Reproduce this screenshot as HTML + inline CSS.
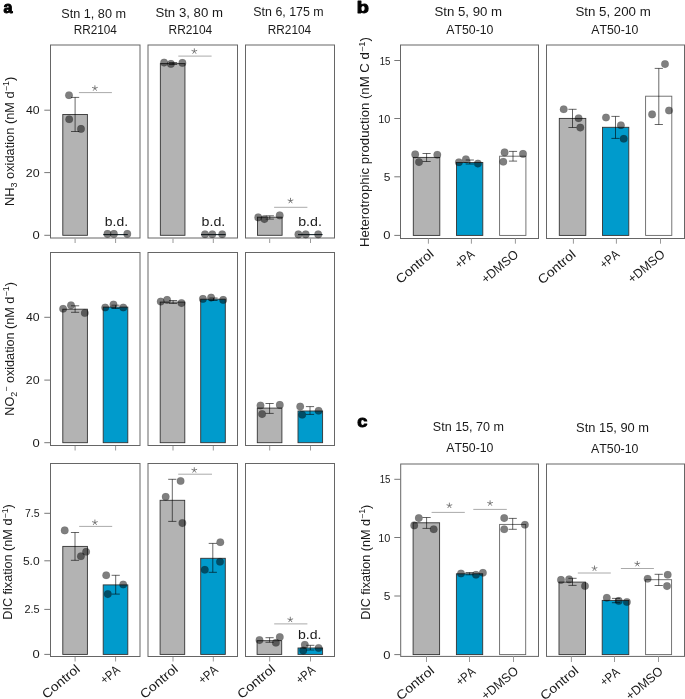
<!DOCTYPE html>
<html><head><meta charset="utf-8"><style>
html,body{margin:0;padding:0;background:#fff;}
svg{display:block;font-family:"Liberation Sans",sans-serif;font-kerning:none;}
text{font-kerning:none;white-space:pre;}
</style></head><body>
<div style="will-change:transform;width:685px;height:699px">
<svg xml:space="preserve" width="685" height="699" viewBox="0 0 685 699">
<rect width="685" height="699" fill="#fff"/>
<text transform="translate(3.53,12.60) scale(0.9895,1)" font-size="16.3" font-weight="bold" fill="#000" stroke="#000" stroke-width="1.0" stroke-linejoin="round">a</text>
<text transform="translate(61.22,18.20) scale(1.0320,1)" font-size="12.3" fill="#1a1a1a">Stn 1, 80 m</text>
<text transform="translate(73.63,33.60) scale(0.9575,1)" font-size="12.3" fill="#1a1a1a">RR2104</text>
<text transform="translate(155.40,17.20) scale(1.0743,1)" font-size="12.3" fill="#1a1a1a">Stn 3, 80 m</text>
<text transform="translate(168.52,33.60) scale(0.9690,1)" font-size="12.3" fill="#1a1a1a">RR2104</text>
<text transform="translate(253.34,16.00) scale(1.0092,1)" font-size="12.3" fill="#1a1a1a">Stn 6, 175 m</text>
<text transform="translate(267.83,33.60) scale(0.9598,1)" font-size="12.3" fill="#1a1a1a">RR2104</text>
<line x1="44.30" y1="235.30" x2="50.50" y2="235.30" stroke="#777" stroke-width="1"/>
<text transform="translate(32.48,239.31) scale(1.1500,1)" font-size="11.3" fill="#1a1a1a">0</text>
<line x1="44.30" y1="172.60" x2="50.50" y2="172.60" stroke="#777" stroke-width="1"/>
<text transform="translate(25.86,176.61) scale(1.1000,1)" font-size="11.3" fill="#1a1a1a">20</text>
<line x1="44.30" y1="110.20" x2="50.50" y2="110.20" stroke="#777" stroke-width="1"/>
<text transform="translate(26.02,114.20) scale(1.0870,1)" font-size="11.3" fill="#1a1a1a">40</text>
<line x1="44.30" y1="442.70" x2="50.50" y2="442.70" stroke="#777" stroke-width="1"/>
<text transform="translate(32.48,446.70) scale(1.1500,1)" font-size="11.3" fill="#1a1a1a">0</text>
<line x1="44.30" y1="380.10" x2="50.50" y2="380.10" stroke="#777" stroke-width="1"/>
<text transform="translate(25.86,384.11) scale(1.1000,1)" font-size="11.3" fill="#1a1a1a">20</text>
<line x1="44.30" y1="317.30" x2="50.50" y2="317.30" stroke="#777" stroke-width="1"/>
<text transform="translate(26.02,321.31) scale(1.0870,1)" font-size="11.3" fill="#1a1a1a">40</text>
<line x1="44.30" y1="654.40" x2="50.50" y2="654.40" stroke="#777" stroke-width="1"/>
<text transform="translate(32.48,658.40) scale(1.1500,1)" font-size="11.3" fill="#1a1a1a">0</text>
<line x1="44.30" y1="609.40" x2="50.50" y2="609.40" stroke="#777" stroke-width="1"/>
<text transform="translate(24.42,613.40) scale(0.9700,1)" font-size="11.3" fill="#1a1a1a">2.5</text>
<line x1="44.30" y1="560.80" x2="50.50" y2="560.80" stroke="#777" stroke-width="1"/>
<text transform="translate(22.91,564.80) scale(1.0670,1)" font-size="11.3" fill="#1a1a1a">5.0</text>
<line x1="44.30" y1="513.30" x2="50.50" y2="513.30" stroke="#777" stroke-width="1"/>
<text transform="translate(24.96,517.30) scale(0.9350,1)" font-size="11.3" fill="#1a1a1a">7.5</text>
<g transform="translate(14.00,204.90) rotate(-90) translate(-1.05,0) scale(1.0417,1)" fill="#1a1a1a"><text x="0.00" y="0.00" font-size="12.30">NH</text><text x="17.77" y="3.44" font-size="8.61">3</text><text x="22.55" y="0.00" font-size="12.30"> oxidation (nM d</text><text x="110.07" y="-4.67" font-size="8.61">−1</text><text x="119.88" y="0.00" font-size="12.30">)</text></g>
<g transform="translate(14.00,414.70) rotate(-90) translate(-1.04,0) scale(1.0303,1)" fill="#1a1a1a"><text x="0.00" y="0.00" font-size="12.30">NO</text><text x="18.45" y="3.44" font-size="8.61">2</text><text x="23.24" y="-4.67" font-size="8.61">−</text><text x="28.27" y="0.00" font-size="12.30"> oxidation (nM d</text><text x="115.78" y="-4.67" font-size="8.61">−1</text><text x="125.59" y="0.00" font-size="12.30">)</text></g>
<g transform="translate(12.40,618.70) rotate(-90) translate(-1.04,0) scale(1.0283,1)" fill="#1a1a1a"><text x="0.00" y="0.00" font-size="12.30">DIC fixation (nM d</text><text x="98.43" y="-4.67" font-size="8.61">−1</text><text x="108.25" y="0.00" font-size="12.30">)</text></g>
<rect x="50.5" y="45.0" width="89.50" height="193.00" fill="none" stroke="#666" stroke-width="1"/>
<rect x="148.0" y="45.0" width="89.50" height="193.00" fill="none" stroke="#666" stroke-width="1"/>
<rect x="245.5" y="45.0" width="89.00" height="193.00" fill="none" stroke="#666" stroke-width="1"/>
<rect x="50.5" y="252.5" width="89.50" height="193.00" fill="none" stroke="#666" stroke-width="1"/>
<rect x="148.0" y="252.5" width="89.50" height="193.00" fill="none" stroke="#666" stroke-width="1"/>
<rect x="245.5" y="252.5" width="89.00" height="193.00" fill="none" stroke="#666" stroke-width="1"/>
<rect x="50.5" y="463.5" width="89.50" height="193.00" fill="none" stroke="#666" stroke-width="1"/>
<rect x="148.0" y="463.5" width="89.50" height="193.00" fill="none" stroke="#666" stroke-width="1"/>
<rect x="245.5" y="463.5" width="89.00" height="193.00" fill="none" stroke="#666" stroke-width="1"/>
<line x1="75.10" y1="238.50" x2="75.10" y2="243.00" stroke="#999" stroke-width="1"/>
<line x1="115.60" y1="238.50" x2="115.60" y2="243.00" stroke="#999" stroke-width="1"/>
<line x1="75.10" y1="446.00" x2="75.10" y2="450.50" stroke="#999" stroke-width="1"/>
<line x1="115.60" y1="446.00" x2="115.60" y2="450.50" stroke="#999" stroke-width="1"/>
<line x1="75.10" y1="657.00" x2="75.10" y2="661.50" stroke="#999" stroke-width="1"/>
<line x1="115.60" y1="657.00" x2="115.60" y2="661.50" stroke="#999" stroke-width="1"/>
<text transform="translate(46.40,699.28) rotate(-40) scale(1.09,1)" font-size="12.8" fill="#1a1a1a">Control</text>
<text transform="translate(104.87,684.80) rotate(-40) scale(0.85,1)" font-size="12.8" fill="#1a1a1a">+PA</text>
<line x1="173.00" y1="238.50" x2="173.00" y2="243.00" stroke="#999" stroke-width="1"/>
<line x1="213.30" y1="238.50" x2="213.30" y2="243.00" stroke="#999" stroke-width="1"/>
<line x1="173.00" y1="446.00" x2="173.00" y2="450.50" stroke="#999" stroke-width="1"/>
<line x1="213.30" y1="446.00" x2="213.30" y2="450.50" stroke="#999" stroke-width="1"/>
<line x1="173.00" y1="657.00" x2="173.00" y2="661.50" stroke="#999" stroke-width="1"/>
<line x1="213.30" y1="657.00" x2="213.30" y2="661.50" stroke="#999" stroke-width="1"/>
<text transform="translate(144.40,699.28) rotate(-40) scale(1.09,1)" font-size="12.8" fill="#1a1a1a">Control</text>
<text transform="translate(202.87,684.80) rotate(-40) scale(0.85,1)" font-size="12.8" fill="#1a1a1a">+PA</text>
<line x1="269.70" y1="238.50" x2="269.70" y2="243.00" stroke="#999" stroke-width="1"/>
<line x1="310.50" y1="238.50" x2="310.50" y2="243.00" stroke="#999" stroke-width="1"/>
<line x1="269.70" y1="446.00" x2="269.70" y2="450.50" stroke="#999" stroke-width="1"/>
<line x1="310.50" y1="446.00" x2="310.50" y2="450.50" stroke="#999" stroke-width="1"/>
<line x1="269.70" y1="657.00" x2="269.70" y2="661.50" stroke="#999" stroke-width="1"/>
<line x1="310.50" y1="657.00" x2="310.50" y2="661.50" stroke="#999" stroke-width="1"/>
<text transform="translate(241.70,699.28) rotate(-40) scale(1.09,1)" font-size="12.8" fill="#1a1a1a">Control</text>
<text transform="translate(300.17,684.80) rotate(-40) scale(0.85,1)" font-size="12.8" fill="#1a1a1a">+PA</text>
<rect x="62.80" y="114.50" width="24.60" height="120.80" fill="#b3b3b3" stroke="#333" stroke-width="0.9"/>
<path d="M71.00,97.40H79.20M75.10,97.40V131.50M71.00,131.50H79.20" stroke="#000" stroke-width="0.6" fill="none"/>
<circle cx="69.00" cy="95.20" r="3.8" fill="#000" fill-opacity="0.5" stroke="#000" stroke-opacity="0.15" stroke-width="0.5"/>
<circle cx="69.20" cy="119.30" r="3.8" fill="#000" fill-opacity="0.5" stroke="#000" stroke-opacity="0.15" stroke-width="0.5"/>
<circle cx="81.00" cy="128.90" r="3.8" fill="#000" fill-opacity="0.5" stroke="#000" stroke-opacity="0.15" stroke-width="0.5"/>
<line x1="103.20" y1="234.60" x2="127.80" y2="234.60" stroke="#1a2a30" stroke-width="1.1"/>
<circle cx="107.50" cy="233.90" r="3.8" fill="#000" fill-opacity="0.5" stroke="#000" stroke-opacity="0.15" stroke-width="0.5"/>
<circle cx="113.90" cy="233.90" r="3.8" fill="#000" fill-opacity="0.5" stroke="#000" stroke-opacity="0.15" stroke-width="0.5"/>
<circle cx="127.30" cy="233.90" r="3.8" fill="#000" fill-opacity="0.5" stroke="#000" stroke-opacity="0.15" stroke-width="0.5"/>
<text transform="translate(104.80,226.10) scale(1.1344,1)" font-size="12.3" fill="#1a1a1a">b.d.</text>
<line x1="78.90" y1="92.60" x2="111.90" y2="92.60" stroke="#aaa" stroke-width="1"/>
<path d="M94.90,88.30L94.90,85.75M94.90,88.30L97.33,87.51M94.90,88.30L96.40,90.36M94.90,88.30L93.40,90.36M94.90,88.30L92.47,87.51" stroke="#707070" stroke-width="0.9" stroke-linecap="round" fill="none"/>
<rect x="160.35" y="63.60" width="24.60" height="171.70" fill="#b3b3b3" stroke="#333" stroke-width="0.9"/>
<path d="M169.00,62.50H177.20M173.10,62.50V64.50M169.00,64.50H177.20" stroke="#000" stroke-width="0.6" fill="none"/>
<circle cx="164.10" cy="62.60" r="3.8" fill="#000" fill-opacity="0.5" stroke="#000" stroke-opacity="0.15" stroke-width="0.5"/>
<circle cx="170.90" cy="63.90" r="3.8" fill="#000" fill-opacity="0.5" stroke="#000" stroke-opacity="0.15" stroke-width="0.5"/>
<circle cx="182.40" cy="62.90" r="3.8" fill="#000" fill-opacity="0.5" stroke="#000" stroke-opacity="0.15" stroke-width="0.5"/>
<line x1="201.00" y1="234.60" x2="225.60" y2="234.60" stroke="#1a2a30" stroke-width="1.1"/>
<circle cx="205.00" cy="234.30" r="3.8" fill="#000" fill-opacity="0.5" stroke="#000" stroke-opacity="0.15" stroke-width="0.5"/>
<circle cx="212.30" cy="234.30" r="3.8" fill="#000" fill-opacity="0.5" stroke="#000" stroke-opacity="0.15" stroke-width="0.5"/>
<circle cx="222.20" cy="234.30" r="3.8" fill="#000" fill-opacity="0.5" stroke="#000" stroke-opacity="0.15" stroke-width="0.5"/>
<text transform="translate(201.58,226.10) scale(1.1559,1)" font-size="12.3" fill="#1a1a1a">b.d.</text>
<line x1="178.30" y1="56.10" x2="211.60" y2="56.10" stroke="#aaa" stroke-width="1"/>
<path d="M194.35,51.30L194.35,48.75M194.35,51.30L196.78,50.51M194.35,51.30L195.85,53.36M194.35,51.30L192.85,53.36M194.35,51.30L191.92,50.51" stroke="#707070" stroke-width="0.9" stroke-linecap="round" fill="none"/>
<rect x="257.50" y="217.20" width="24.60" height="18.10" fill="#b3b3b3" stroke="#333" stroke-width="0.9"/>
<path d="M265.70,215.80H273.90M269.80,215.80V219.10M265.70,219.10H273.90" stroke="#000" stroke-width="0.6" fill="none"/>
<circle cx="258.20" cy="217.40" r="3.8" fill="#000" fill-opacity="0.5" stroke="#000" stroke-opacity="0.15" stroke-width="0.5"/>
<circle cx="264.40" cy="219.10" r="3.8" fill="#000" fill-opacity="0.5" stroke="#000" stroke-opacity="0.15" stroke-width="0.5"/>
<circle cx="279.70" cy="215.40" r="3.8" fill="#000" fill-opacity="0.5" stroke="#000" stroke-opacity="0.15" stroke-width="0.5"/>
<line x1="298.00" y1="234.60" x2="322.60" y2="234.60" stroke="#1a2a30" stroke-width="1.1"/>
<circle cx="298.40" cy="234.40" r="3.8" fill="#000" fill-opacity="0.5" stroke="#000" stroke-opacity="0.15" stroke-width="0.5"/>
<circle cx="305.70" cy="234.40" r="3.8" fill="#000" fill-opacity="0.5" stroke="#000" stroke-opacity="0.15" stroke-width="0.5"/>
<circle cx="318.20" cy="234.40" r="3.8" fill="#000" fill-opacity="0.5" stroke="#000" stroke-opacity="0.15" stroke-width="0.5"/>
<text transform="translate(298.18,225.80) scale(1.1559,1)" font-size="12.3" fill="#1a1a1a">b.d.</text>
<line x1="274.10" y1="207.30" x2="307.40" y2="207.30" stroke="#aaa" stroke-width="1"/>
<path d="M290.50,200.80L290.50,198.25M290.50,200.80L292.93,200.01M290.50,200.80L292.00,202.86M290.50,200.80L289.00,202.86M290.50,200.80L288.07,200.01" stroke="#707070" stroke-width="0.9" stroke-linecap="round" fill="none"/>
<rect x="62.80" y="309.20" width="24.60" height="133.50" fill="#b3b3b3" stroke="#333" stroke-width="0.9"/>
<path d="M71.00,305.80H79.20M75.10,305.80V312.30M71.00,312.30H79.20" stroke="#000" stroke-width="0.6" fill="none"/>
<circle cx="63.10" cy="308.80" r="3.8" fill="#000" fill-opacity="0.5" stroke="#000" stroke-opacity="0.15" stroke-width="0.5"/>
<circle cx="71.00" cy="305.20" r="3.8" fill="#000" fill-opacity="0.5" stroke="#000" stroke-opacity="0.15" stroke-width="0.5"/>
<circle cx="84.80" cy="313.00" r="3.8" fill="#000" fill-opacity="0.5" stroke="#000" stroke-opacity="0.15" stroke-width="0.5"/>
<rect x="103.20" y="307.10" width="24.60" height="135.60" fill="#009bcc" stroke="#333" stroke-width="0.9"/>
<path d="M111.40,305.20H119.60M115.50,305.20V308.50M111.40,308.50H119.60" stroke="#000" stroke-width="0.6" fill="none"/>
<circle cx="105.20" cy="307.50" r="3.8" fill="#000" fill-opacity="0.5" stroke="#000" stroke-opacity="0.15" stroke-width="0.5"/>
<circle cx="113.50" cy="304.50" r="3.8" fill="#000" fill-opacity="0.5" stroke="#000" stroke-opacity="0.15" stroke-width="0.5"/>
<circle cx="123.30" cy="307.50" r="3.8" fill="#000" fill-opacity="0.5" stroke="#000" stroke-opacity="0.15" stroke-width="0.5"/>
<rect x="160.20" y="302.10" width="24.60" height="140.60" fill="#b3b3b3" stroke="#333" stroke-width="0.9"/>
<path d="M169.00,300.50H177.20M173.10,300.50V303.50M169.00,303.50H177.20" stroke="#000" stroke-width="0.6" fill="none"/>
<circle cx="160.70" cy="301.60" r="3.8" fill="#000" fill-opacity="0.5" stroke="#000" stroke-opacity="0.15" stroke-width="0.5"/>
<circle cx="167.10" cy="299.90" r="3.8" fill="#000" fill-opacity="0.5" stroke="#000" stroke-opacity="0.15" stroke-width="0.5"/>
<circle cx="181.50" cy="303.10" r="3.8" fill="#000" fill-opacity="0.5" stroke="#000" stroke-opacity="0.15" stroke-width="0.5"/>
<rect x="200.70" y="299.20" width="24.60" height="143.50" fill="#009bcc" stroke="#333" stroke-width="0.9"/>
<path d="M209.40,298.00H217.60M213.50,298.00V300.50M209.40,300.50H217.60" stroke="#000" stroke-width="0.6" fill="none"/>
<circle cx="202.90" cy="298.90" r="3.8" fill="#000" fill-opacity="0.5" stroke="#000" stroke-opacity="0.15" stroke-width="0.5"/>
<circle cx="211.10" cy="297.60" r="3.8" fill="#000" fill-opacity="0.5" stroke="#000" stroke-opacity="0.15" stroke-width="0.5"/>
<circle cx="223.20" cy="299.90" r="3.8" fill="#000" fill-opacity="0.5" stroke="#000" stroke-opacity="0.15" stroke-width="0.5"/>
<rect x="257.30" y="408.10" width="24.60" height="34.60" fill="#b3b3b3" stroke="#333" stroke-width="0.9"/>
<path d="M265.50,403.50H273.70M269.60,403.50V413.40M265.50,413.40H273.70" stroke="#000" stroke-width="0.6" fill="none"/>
<circle cx="260.50" cy="405.50" r="3.8" fill="#000" fill-opacity="0.5" stroke="#000" stroke-opacity="0.15" stroke-width="0.5"/>
<circle cx="262.10" cy="414.10" r="3.8" fill="#000" fill-opacity="0.5" stroke="#000" stroke-opacity="0.15" stroke-width="0.5"/>
<circle cx="279.80" cy="404.90" r="3.8" fill="#000" fill-opacity="0.5" stroke="#000" stroke-opacity="0.15" stroke-width="0.5"/>
<rect x="298.00" y="411.00" width="24.60" height="31.70" fill="#009bcc" stroke="#333" stroke-width="0.9"/>
<path d="M305.90,406.60H314.10M310.00,406.60V414.40M305.90,414.40H314.10" stroke="#000" stroke-width="0.6" fill="none"/>
<circle cx="300.20" cy="406.60" r="3.8" fill="#000" fill-opacity="0.5" stroke="#000" stroke-opacity="0.15" stroke-width="0.5"/>
<circle cx="302.20" cy="414.70" r="3.8" fill="#000" fill-opacity="0.5" stroke="#000" stroke-opacity="0.15" stroke-width="0.5"/>
<circle cx="318.60" cy="410.80" r="3.8" fill="#000" fill-opacity="0.5" stroke="#000" stroke-opacity="0.15" stroke-width="0.5"/>
<rect x="62.80" y="546.40" width="24.60" height="108.00" fill="#b3b3b3" stroke="#333" stroke-width="0.9"/>
<path d="M70.90,532.50H79.10M75.00,532.50V560.30M70.90,560.30H79.10" stroke="#000" stroke-width="0.6" fill="none"/>
<circle cx="64.70" cy="530.40" r="3.8" fill="#000" fill-opacity="0.5" stroke="#000" stroke-opacity="0.15" stroke-width="0.5"/>
<circle cx="80.90" cy="556.30" r="3.8" fill="#000" fill-opacity="0.5" stroke="#000" stroke-opacity="0.15" stroke-width="0.5"/>
<circle cx="86.10" cy="551.80" r="3.8" fill="#000" fill-opacity="0.5" stroke="#000" stroke-opacity="0.15" stroke-width="0.5"/>
<rect x="103.20" y="584.90" width="24.60" height="69.50" fill="#009bcc" stroke="#333" stroke-width="0.9"/>
<path d="M111.60,575.30H119.80M115.70,575.30V594.10M111.60,594.10H119.80" stroke="#000" stroke-width="0.6" fill="none"/>
<circle cx="106.20" cy="575.30" r="3.8" fill="#000" fill-opacity="0.5" stroke="#000" stroke-opacity="0.15" stroke-width="0.5"/>
<circle cx="123.20" cy="584.50" r="3.8" fill="#000" fill-opacity="0.5" stroke="#000" stroke-opacity="0.15" stroke-width="0.5"/>
<circle cx="107.80" cy="594.10" r="3.8" fill="#000" fill-opacity="0.5" stroke="#000" stroke-opacity="0.15" stroke-width="0.5"/>
<line x1="79.20" y1="526.40" x2="112.20" y2="526.40" stroke="#aaa" stroke-width="1"/>
<path d="M94.90,522.50L94.90,519.95M94.90,522.50L97.33,521.71M94.90,522.50L96.40,524.56M94.90,522.50L93.40,524.56M94.90,522.50L92.47,521.71" stroke="#707070" stroke-width="0.9" stroke-linecap="round" fill="none"/>
<rect x="160.10" y="500.30" width="24.60" height="154.10" fill="#b3b3b3" stroke="#333" stroke-width="0.9"/>
<path d="M168.20,479.30H176.40M172.30,479.30V521.40M168.20,521.40H176.40" stroke="#000" stroke-width="0.6" fill="none"/>
<circle cx="180.60" cy="481.00" r="3.8" fill="#000" fill-opacity="0.5" stroke="#000" stroke-opacity="0.15" stroke-width="0.5"/>
<circle cx="165.70" cy="496.80" r="3.8" fill="#000" fill-opacity="0.5" stroke="#000" stroke-opacity="0.15" stroke-width="0.5"/>
<circle cx="182.40" cy="523.10" r="3.8" fill="#000" fill-opacity="0.5" stroke="#000" stroke-opacity="0.15" stroke-width="0.5"/>
<rect x="200.70" y="558.30" width="24.60" height="96.10" fill="#009bcc" stroke="#333" stroke-width="0.9"/>
<path d="M208.70,543.40H216.90M212.80,543.40V572.30M208.70,572.30H216.90" stroke="#000" stroke-width="0.6" fill="none"/>
<circle cx="220.30" cy="542.20" r="3.8" fill="#000" fill-opacity="0.5" stroke="#000" stroke-opacity="0.15" stroke-width="0.5"/>
<circle cx="220.00" cy="561.80" r="3.8" fill="#000" fill-opacity="0.5" stroke="#000" stroke-opacity="0.15" stroke-width="0.5"/>
<circle cx="204.80" cy="569.80" r="3.8" fill="#000" fill-opacity="0.5" stroke="#000" stroke-opacity="0.15" stroke-width="0.5"/>
<line x1="178.20" y1="474.20" x2="212.00" y2="474.20" stroke="#aaa" stroke-width="1"/>
<path d="M194.30,470.20L194.30,467.65M194.30,470.20L196.73,469.41M194.30,470.20L195.80,472.26M194.30,470.20L192.80,472.26M194.30,470.20L191.87,469.41" stroke="#707070" stroke-width="0.9" stroke-linecap="round" fill="none"/>
<rect x="257.10" y="640.70" width="24.60" height="13.70" fill="#b3b3b3" stroke="#333" stroke-width="0.9"/>
<path d="M265.50,637.70H273.70M269.60,637.70V642.30M265.50,642.30H273.70" stroke="#000" stroke-width="0.6" fill="none"/>
<circle cx="259.50" cy="640.10" r="3.8" fill="#000" fill-opacity="0.5" stroke="#000" stroke-opacity="0.15" stroke-width="0.5"/>
<circle cx="279.80" cy="637.10" r="3.8" fill="#000" fill-opacity="0.5" stroke="#000" stroke-opacity="0.15" stroke-width="0.5"/>
<circle cx="275.90" cy="642.70" r="3.8" fill="#000" fill-opacity="0.5" stroke="#000" stroke-opacity="0.15" stroke-width="0.5"/>
<rect x="298.00" y="648.00" width="24.60" height="6.40" fill="#009bcc" stroke="#333" stroke-width="0.9"/>
<path d="M306.20,645.30H314.40M310.30,645.30V650.00M306.20,650.00H314.40" stroke="#000" stroke-width="0.6" fill="none"/>
<circle cx="304.80" cy="644.70" r="3.8" fill="#000" fill-opacity="0.5" stroke="#000" stroke-opacity="0.15" stroke-width="0.5"/>
<circle cx="318.60" cy="648.00" r="3.8" fill="#000" fill-opacity="0.5" stroke="#000" stroke-opacity="0.15" stroke-width="0.5"/>
<circle cx="303.20" cy="650.60" r="3.8" fill="#000" fill-opacity="0.5" stroke="#000" stroke-opacity="0.15" stroke-width="0.5"/>
<text transform="translate(297.99,638.50) scale(1.1452,1)" font-size="12.3" fill="#1a1a1a">b.d.</text>
<line x1="274.20" y1="623.90" x2="307.40" y2="623.90" stroke="#aaa" stroke-width="1"/>
<path d="M290.30,619.70L290.30,617.15M290.30,619.70L292.73,618.91M290.30,619.70L291.80,621.76M290.30,619.70L288.80,621.76M290.30,619.70L287.87,618.91" stroke="#707070" stroke-width="0.9" stroke-linecap="round" fill="none"/>
<text transform="translate(356.69,12.80) scale(1.2175,1)" font-size="16.3" font-weight="bold" fill="#000" stroke="#000" stroke-width="1.0" stroke-linejoin="round">b</text>
<text transform="translate(434.40,15.60) scale(1.0775,1)" font-size="12.3" fill="#1a1a1a">Stn 5, 90 m</text>
<text transform="translate(446.28,33.90) scale(1.0006,1)" font-size="12.3" fill="#1a1a1a">AT50-10</text>
<text transform="translate(575.40,16.10) scale(1.0823,1)" font-size="12.3" fill="#1a1a1a">Stn 5, 200 m</text>
<text transform="translate(591.28,33.90) scale(1.0006,1)" font-size="12.3" fill="#1a1a1a">AT50-10</text>
<line x1="394.30" y1="235.40" x2="400.50" y2="235.40" stroke="#777" stroke-width="1"/>
<text transform="translate(383.28,239.41) scale(1.1500,1)" font-size="11.3" fill="#1a1a1a">0</text>
<line x1="394.30" y1="176.80" x2="400.50" y2="176.80" stroke="#777" stroke-width="1"/>
<text transform="translate(383.84,180.81) scale(1.0600,1)" font-size="11.3" fill="#1a1a1a">5</text>
<line x1="394.30" y1="118.50" x2="400.50" y2="118.50" stroke="#777" stroke-width="1"/>
<text transform="translate(378.27,122.50) scale(0.9670,1)" font-size="11.3" fill="#1a1a1a">10</text>
<line x1="394.30" y1="60.50" x2="400.50" y2="60.50" stroke="#777" stroke-width="1"/>
<text transform="translate(379.66,64.50) scale(0.8550,1)" font-size="11.3" fill="#1a1a1a">15</text>
<g transform="translate(369.30,246.00) rotate(-90) translate(-1.08,0) scale(1.0722,1)" fill="#1a1a1a"><text x="0.00" y="0.00" font-size="12.30">Heterotrophic production (nM C d</text><text x="181.85" y="-4.67" font-size="8.61">−1</text><text x="191.67" y="0.00" font-size="12.30">)</text></g>
<rect x="400.5" y="45.0" width="138.00" height="193.50" fill="none" stroke="#666" stroke-width="1"/>
<rect x="546.5" y="45.0" width="138.00" height="193.50" fill="none" stroke="#666" stroke-width="1"/>
<line x1="428.40" y1="238.50" x2="428.40" y2="243.70" stroke="#999" stroke-width="1"/>
<line x1="471.40" y1="238.50" x2="471.40" y2="243.70" stroke="#999" stroke-width="1"/>
<line x1="515.40" y1="238.50" x2="515.40" y2="243.70" stroke="#999" stroke-width="1"/>
<line x1="573.40" y1="238.50" x2="573.40" y2="243.70" stroke="#999" stroke-width="1"/>
<line x1="616.40" y1="238.50" x2="616.40" y2="243.70" stroke="#999" stroke-width="1"/>
<line x1="660.50" y1="238.50" x2="660.50" y2="243.70" stroke="#999" stroke-width="1"/>
<text transform="translate(400.20,284.26) rotate(-40) scale(1.09,1)" font-size="12.8" fill="#1a1a1a">Control</text>
<text transform="translate(459.23,269.19) rotate(-40) scale(0.85,1)" font-size="12.8" fill="#1a1a1a">+PA</text>
<text transform="translate(485.65,284.09) rotate(-40) scale(0.954,1)" font-size="12.8" fill="#1a1a1a">+DMSO</text>
<text transform="translate(542.20,284.68) rotate(-40) scale(1.09,1)" font-size="12.8" fill="#1a1a1a">Control</text>
<text transform="translate(604.24,269.18) rotate(-40) scale(0.85,1)" font-size="12.8" fill="#1a1a1a">+PA</text>
<text transform="translate(632.19,283.71) rotate(-40) scale(0.954,1)" font-size="12.8" fill="#1a1a1a">+DMSO</text>
<rect x="413.30" y="157.40" width="26.50" height="78.00" fill="#b3b3b3" stroke="#333" stroke-width="0.9"/>
<path d="M422.50,153.50H430.70M426.60,153.50V161.50M422.50,161.50H430.70" stroke="#000" stroke-width="0.6" fill="none"/>
<circle cx="415.20" cy="154.40" r="3.8" fill="#000" fill-opacity="0.5" stroke="#000" stroke-opacity="0.15" stroke-width="0.5"/>
<circle cx="437.30" cy="154.70" r="3.8" fill="#000" fill-opacity="0.5" stroke="#000" stroke-opacity="0.15" stroke-width="0.5"/>
<circle cx="419.00" cy="162.10" r="3.8" fill="#000" fill-opacity="0.5" stroke="#000" stroke-opacity="0.15" stroke-width="0.5"/>
<rect x="456.50" y="162.50" width="26.30" height="72.90" fill="#009bcc" stroke="#333" stroke-width="0.9"/>
<path d="M465.70,160.00H473.90M469.80,160.00V164.00M465.70,164.00H473.90" stroke="#000" stroke-width="0.6" fill="none"/>
<circle cx="458.90" cy="162.30" r="3.8" fill="#000" fill-opacity="0.5" stroke="#000" stroke-opacity="0.15" stroke-width="0.5"/>
<circle cx="465.90" cy="159.20" r="3.8" fill="#000" fill-opacity="0.5" stroke="#000" stroke-opacity="0.15" stroke-width="0.5"/>
<circle cx="477.90" cy="163.60" r="3.8" fill="#000" fill-opacity="0.5" stroke="#000" stroke-opacity="0.15" stroke-width="0.5"/>
<rect x="499.60" y="156.20" width="26.30" height="79.20" fill="#fff" stroke="#666" stroke-width="0.9"/>
<path d="M508.90,151.40H517.10M513.00,151.40V161.10M508.90,161.10H517.10" stroke="#000" stroke-width="0.6" fill="none"/>
<circle cx="504.60" cy="152.40" r="3.8" fill="#000" fill-opacity="0.5" stroke="#000" stroke-opacity="0.15" stroke-width="0.5"/>
<circle cx="523.00" cy="153.90" r="3.8" fill="#000" fill-opacity="0.5" stroke="#000" stroke-opacity="0.15" stroke-width="0.5"/>
<circle cx="503.30" cy="161.70" r="3.8" fill="#000" fill-opacity="0.5" stroke="#000" stroke-opacity="0.15" stroke-width="0.5"/>
<rect x="559.30" y="118.40" width="26.50" height="117.00" fill="#b3b3b3" stroke="#333" stroke-width="0.9"/>
<path d="M568.40,109.30H576.60M572.50,109.30V127.50M568.40,127.50H576.60" stroke="#000" stroke-width="0.6" fill="none"/>
<circle cx="563.70" cy="109.30" r="3.8" fill="#000" fill-opacity="0.5" stroke="#000" stroke-opacity="0.15" stroke-width="0.5"/>
<circle cx="578.60" cy="118.20" r="3.8" fill="#000" fill-opacity="0.5" stroke="#000" stroke-opacity="0.15" stroke-width="0.5"/>
<circle cx="580.30" cy="127.60" r="3.8" fill="#000" fill-opacity="0.5" stroke="#000" stroke-opacity="0.15" stroke-width="0.5"/>
<rect x="602.50" y="127.30" width="26.30" height="108.10" fill="#009bcc" stroke="#333" stroke-width="0.9"/>
<path d="M611.40,116.40H619.60M615.50,116.40V138.40M611.40,138.40H619.60" stroke="#000" stroke-width="0.6" fill="none"/>
<circle cx="606.00" cy="117.50" r="3.8" fill="#000" fill-opacity="0.5" stroke="#000" stroke-opacity="0.15" stroke-width="0.5"/>
<circle cx="620.90" cy="125.20" r="3.8" fill="#000" fill-opacity="0.5" stroke="#000" stroke-opacity="0.15" stroke-width="0.5"/>
<circle cx="623.70" cy="138.80" r="3.8" fill="#000" fill-opacity="0.5" stroke="#000" stroke-opacity="0.15" stroke-width="0.5"/>
<rect x="645.60" y="96.20" width="26.20" height="139.20" fill="#fff" stroke="#666" stroke-width="0.9"/>
<path d="M654.70,68.40H662.90M658.80,68.40V124.50M654.70,124.50H662.90" stroke="#000" stroke-width="0.6" fill="none"/>
<circle cx="665.00" cy="64.10" r="3.8" fill="#000" fill-opacity="0.5" stroke="#000" stroke-opacity="0.15" stroke-width="0.5"/>
<circle cx="652.10" cy="114.40" r="3.8" fill="#000" fill-opacity="0.5" stroke="#000" stroke-opacity="0.15" stroke-width="0.5"/>
<circle cx="669.00" cy="110.50" r="3.8" fill="#000" fill-opacity="0.5" stroke="#000" stroke-opacity="0.15" stroke-width="0.5"/>
<text transform="translate(357.29,426.60) scale(1.1194,1)" font-size="16.3" font-weight="bold" fill="#000" stroke="#000" stroke-width="1.0" stroke-linejoin="round">c</text>
<text transform="translate(432.83,431.20) scale(1.0209,1)" font-size="12.3" fill="#1a1a1a">Stn 15, 70 m</text>
<text transform="translate(446.28,452.00) scale(1.0006,1)" font-size="12.3" fill="#1a1a1a">AT50-10</text>
<text transform="translate(576.12,432.20) scale(1.0458,1)" font-size="12.3" fill="#1a1a1a">Stn 15, 90 m</text>
<text transform="translate(590.98,453.40) scale(1.0070,1)" font-size="12.3" fill="#1a1a1a">AT50-10</text>
<line x1="394.30" y1="654.60" x2="400.50" y2="654.60" stroke="#777" stroke-width="1"/>
<text transform="translate(383.28,658.61) scale(1.1500,1)" font-size="11.3" fill="#1a1a1a">0</text>
<line x1="394.30" y1="596.00" x2="400.50" y2="596.00" stroke="#777" stroke-width="1"/>
<text transform="translate(383.84,600.00) scale(1.0600,1)" font-size="11.3" fill="#1a1a1a">5</text>
<line x1="394.30" y1="537.50" x2="400.50" y2="537.50" stroke="#777" stroke-width="1"/>
<text transform="translate(378.27,541.50) scale(0.9670,1)" font-size="11.3" fill="#1a1a1a">10</text>
<line x1="394.30" y1="479.30" x2="400.50" y2="479.30" stroke="#777" stroke-width="1"/>
<text transform="translate(379.66,483.31) scale(0.8550,1)" font-size="11.3" fill="#1a1a1a">15</text>
<g transform="translate(370.00,618.80) rotate(-90) translate(-1.03,0) scale(1.0247,1)" fill="#1a1a1a"><text x="0.00" y="0.00" font-size="12.30">DIC fixation (nM d</text><text x="98.43" y="-4.67" font-size="8.61">−1</text><text x="108.25" y="0.00" font-size="12.30">)</text></g>
<rect x="400.7" y="464.0" width="137.80" height="192.40" fill="none" stroke="#666" stroke-width="1"/>
<rect x="546.5" y="464.0" width="138.00" height="192.40" fill="none" stroke="#666" stroke-width="1"/>
<line x1="426.50" y1="656.40" x2="426.50" y2="662.00" stroke="#999" stroke-width="1"/>
<line x1="469.50" y1="656.40" x2="469.50" y2="662.00" stroke="#999" stroke-width="1"/>
<line x1="513.50" y1="656.40" x2="513.50" y2="662.00" stroke="#999" stroke-width="1"/>
<line x1="571.40" y1="656.40" x2="571.40" y2="662.00" stroke="#999" stroke-width="1"/>
<line x1="614.50" y1="656.40" x2="614.50" y2="662.00" stroke="#999" stroke-width="1"/>
<line x1="658.50" y1="656.40" x2="658.50" y2="662.00" stroke="#999" stroke-width="1"/>
<text transform="translate(400.67,700.81) rotate(-40) scale(1.09,1)" font-size="12.8" fill="#1a1a1a">Control</text>
<text transform="translate(460.26,686.58) rotate(-40) scale(0.85,1)" font-size="12.8" fill="#1a1a1a">+PA</text>
<text transform="translate(485.77,700.55) rotate(-40) scale(0.954,1)" font-size="12.8" fill="#1a1a1a">+DMSO</text>
<text transform="translate(544.83,700.86) rotate(-40) scale(1.09,1)" font-size="12.8" fill="#1a1a1a">Control</text>
<text transform="translate(604.61,686.86) rotate(-40) scale(0.85,1)" font-size="12.8" fill="#1a1a1a">+PA</text>
<text transform="translate(630.28,700.70) rotate(-40) scale(0.954,1)" font-size="12.8" fill="#1a1a1a">+DMSO</text>
<rect x="413.10" y="522.80" width="26.50" height="131.80" fill="#b3b3b3" stroke="#333" stroke-width="0.9"/>
<path d="M422.50,517.50H430.70M426.60,517.50V528.40M422.50,528.40H430.70" stroke="#000" stroke-width="0.6" fill="none"/>
<circle cx="418.80" cy="518.10" r="3.8" fill="#000" fill-opacity="0.5" stroke="#000" stroke-opacity="0.15" stroke-width="0.5"/>
<circle cx="414.20" cy="525.40" r="3.8" fill="#000" fill-opacity="0.5" stroke="#000" stroke-opacity="0.15" stroke-width="0.5"/>
<circle cx="433.70" cy="529.30" r="3.8" fill="#000" fill-opacity="0.5" stroke="#000" stroke-opacity="0.15" stroke-width="0.5"/>
<rect x="456.40" y="573.80" width="26.30" height="80.80" fill="#009bcc" stroke="#333" stroke-width="0.9"/>
<path d="M465.50,572.50H473.70M469.60,572.50V574.80M465.50,574.80H473.70" stroke="#000" stroke-width="0.6" fill="none"/>
<circle cx="461.00" cy="573.50" r="3.8" fill="#000" fill-opacity="0.5" stroke="#000" stroke-opacity="0.15" stroke-width="0.5"/>
<circle cx="476.00" cy="574.80" r="3.8" fill="#000" fill-opacity="0.5" stroke="#000" stroke-opacity="0.15" stroke-width="0.5"/>
<circle cx="482.90" cy="572.80" r="3.8" fill="#000" fill-opacity="0.5" stroke="#000" stroke-opacity="0.15" stroke-width="0.5"/>
<rect x="499.60" y="524.40" width="26.10" height="130.20" fill="#fff" stroke="#666" stroke-width="0.9"/>
<path d="M508.60,518.40H516.80M512.70,518.40V529.30M508.60,529.30H516.80" stroke="#000" stroke-width="0.6" fill="none"/>
<circle cx="504.20" cy="518.10" r="3.8" fill="#000" fill-opacity="0.5" stroke="#000" stroke-opacity="0.15" stroke-width="0.5"/>
<circle cx="504.20" cy="529.30" r="3.8" fill="#000" fill-opacity="0.5" stroke="#000" stroke-opacity="0.15" stroke-width="0.5"/>
<circle cx="524.90" cy="524.70" r="3.8" fill="#000" fill-opacity="0.5" stroke="#000" stroke-opacity="0.15" stroke-width="0.5"/>
<line x1="431.60" y1="512.40" x2="464.80" y2="512.40" stroke="#aaa" stroke-width="1"/>
<path d="M449.40,505.60L449.40,503.05M449.40,505.60L451.83,504.81M449.40,505.60L450.90,507.66M449.40,505.60L447.90,507.66M449.40,505.60L446.97,504.81" stroke="#707070" stroke-width="0.9" stroke-linecap="round" fill="none"/>
<line x1="473.30" y1="509.40" x2="506.80" y2="509.40" stroke="#aaa" stroke-width="1"/>
<path d="M490.10,503.30L490.10,500.75M490.10,503.30L492.53,502.51M490.10,503.30L491.60,505.36M490.10,503.30L488.60,505.36M490.10,503.30L487.67,502.51" stroke="#707070" stroke-width="0.9" stroke-linecap="round" fill="none"/>
<rect x="559.00" y="582.10" width="26.50" height="72.50" fill="#b3b3b3" stroke="#333" stroke-width="0.9"/>
<path d="M568.40,578.30H576.60M572.50,578.30V585.40M568.40,585.40H576.60" stroke="#000" stroke-width="0.6" fill="none"/>
<circle cx="561.00" cy="579.90" r="3.8" fill="#000" fill-opacity="0.5" stroke="#000" stroke-opacity="0.15" stroke-width="0.5"/>
<circle cx="569.10" cy="579.40" r="3.8" fill="#000" fill-opacity="0.5" stroke="#000" stroke-opacity="0.15" stroke-width="0.5"/>
<circle cx="585.00" cy="586.00" r="3.8" fill="#000" fill-opacity="0.5" stroke="#000" stroke-opacity="0.15" stroke-width="0.5"/>
<rect x="602.20" y="600.40" width="26.60" height="54.20" fill="#009bcc" stroke="#333" stroke-width="0.9"/>
<path d="M611.90,598.40H620.10M616.00,598.40V602.70M611.90,602.70H620.10" stroke="#000" stroke-width="0.6" fill="none"/>
<circle cx="606.80" cy="597.70" r="3.8" fill="#000" fill-opacity="0.5" stroke="#000" stroke-opacity="0.15" stroke-width="0.5"/>
<circle cx="618.70" cy="600.90" r="3.8" fill="#000" fill-opacity="0.5" stroke="#000" stroke-opacity="0.15" stroke-width="0.5"/>
<circle cx="626.90" cy="602.00" r="3.8" fill="#000" fill-opacity="0.5" stroke="#000" stroke-opacity="0.15" stroke-width="0.5"/>
<rect x="645.60" y="579.70" width="26.00" height="74.90" fill="#fff" stroke="#666" stroke-width="0.9"/>
<path d="M654.60,574.30H662.80M658.70,574.30V585.50M654.60,585.50H662.80" stroke="#000" stroke-width="0.6" fill="none"/>
<circle cx="647.60" cy="578.70" r="3.8" fill="#000" fill-opacity="0.5" stroke="#000" stroke-opacity="0.15" stroke-width="0.5"/>
<circle cx="667.70" cy="574.70" r="3.8" fill="#000" fill-opacity="0.5" stroke="#000" stroke-opacity="0.15" stroke-width="0.5"/>
<circle cx="667.00" cy="586.10" r="3.8" fill="#000" fill-opacity="0.5" stroke="#000" stroke-opacity="0.15" stroke-width="0.5"/>
<line x1="577.80" y1="573.00" x2="610.80" y2="573.00" stroke="#aaa" stroke-width="1"/>
<path d="M594.50,568.50L594.50,565.95M594.50,568.50L596.93,567.71M594.50,568.50L596.00,570.56M594.50,568.50L593.00,570.56M594.50,568.50L592.07,567.71" stroke="#707070" stroke-width="0.9" stroke-linecap="round" fill="none"/>
<line x1="620.90" y1="568.50" x2="653.90" y2="568.50" stroke="#aaa" stroke-width="1"/>
<path d="M637.30,563.90L637.30,561.35M637.30,563.90L639.73,563.11M637.30,563.90L638.80,565.96M637.30,563.90L635.80,565.96M637.30,563.90L634.87,563.11" stroke="#707070" stroke-width="0.9" stroke-linecap="round" fill="none"/>
</svg>
</div>
</body></html>
